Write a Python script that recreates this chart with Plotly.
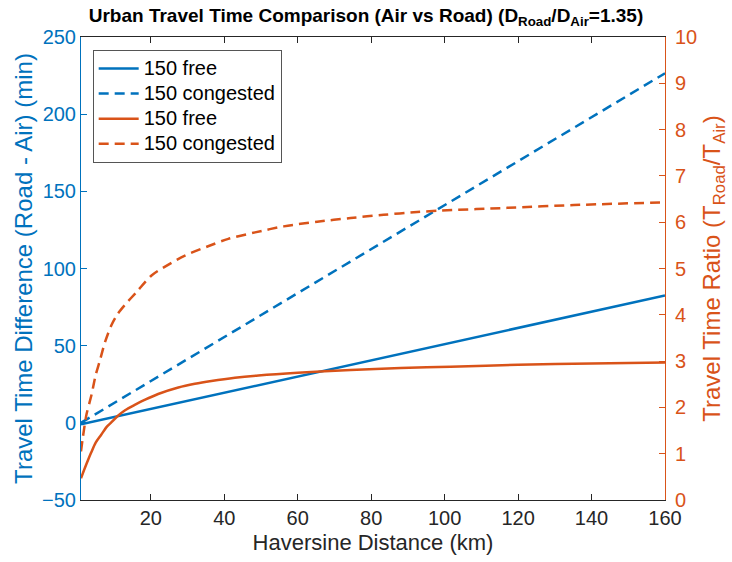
import plotly.graph_objects as go

# Data
dist_lin = [1, 20, 40, 60, 80, 100, 120, 140, 160]
diff_free = [-1.0, 9.0, 19.5, 30.0, 40.5, 51.0, 61.5, 72.0, 82.5]
diff_cong = [0.0, 27.0, 55.5, 84.0, 112.5, 141.0, 169.5, 198.0, 226.5]

dist_ratio_free = [1, 2, 3, 3.8, 5, 6.5, 8, 9.3, 10.9, 13, 15.5, 18.3, 22, 27.5, 32,
                   36.5, 42.9, 49.3, 60, 74.4, 88, 101.6, 120, 140, 160]
ratio_free = [0.47, 0.68, 0.88, 1.03, 1.24, 1.41, 1.58, 1.68, 1.81, 1.94, 2.05, 2.16,
              2.29, 2.43, 2.51, 2.57, 2.64, 2.69, 2.75, 2.81, 2.85, 2.88, 2.92, 2.95, 2.97]

dist_ratio_cong = [1, 1.5, 2.5, 3.8, 5, 6.1, 7.5, 9.3, 11, 12.9, 16.1, 20.2, 24.7, 29.3,
                   35.6, 41.1, 48.4, 56.2, 65.3, 74.4, 83.4, 92.5, 98.9, 117, 135.2, 160]
ratio_cong = [1.05, 1.35, 1.85, 2.25, 2.7, 3.0, 3.4, 3.78, 4.02, 4.21, 4.49, 4.85, 5.08,
              5.28, 5.48, 5.64, 5.78, 5.91, 6.01, 6.09, 6.16, 6.22, 6.25, 6.31, 6.37, 6.43]

x_ticks = [20, 40, 60, 80, 100, 120, 140, 160]
left_ticks = [-50, 0, 50, 100, 150, 200, 250]
right_ticks = list(range(0, 11))

BLUE = "#0072BD"
ORANGE = "#D95319"
GRAY = "#262626"
FONT = "Liberation Sans, Arial, sans-serif"
DASH = "10px,6px"


def big(name):
    return "<span style='font-size:20px'>" + name + "</span>"


fig = go.Figure()
fig.add_trace(go.Scatter(x=dist_lin, y=diff_free, mode="lines", name=big("150 free"),
                         line=dict(color=BLUE, width=2.5)))
fig.add_trace(go.Scatter(x=dist_lin, y=diff_cong, mode="lines", name=big("150 congested"),
                         line=dict(color=BLUE, width=2.5, dash=DASH)))
fig.add_trace(go.Scatter(x=dist_ratio_free, y=ratio_free, mode="lines", name=big("150 free"),
                         yaxis="y2", line=dict(color=ORANGE, width=2.5, shape="spline", smoothing=0.8)))
fig.add_trace(go.Scatter(x=dist_ratio_cong, y=ratio_cong, mode="lines", name=big("150 congested"),
                         yaxis="y2", line=dict(color=ORANGE, width=2.5, dash=DASH, shape="spline", smoothing=0.8)))

fig.update_layout(
    width=732, height=562,
    margin=dict(l=81, r=65, t=37, b=60),
    paper_bgcolor="white", plot_bgcolor="white",
    font=dict(family=FONT, size=20, color=GRAY),
    title=dict(text="<b>Urban Travel Time Comparison (Air vs Road) (D<sub>Road</sub>/D<sub>Air</sub>=1.35)</b>",
               x=0.5, xanchor="center", y=0.972, yanchor="middle", yref="container",
               font=dict(family=FONT, size=19, color="black")),
    showlegend=True,
    legend=dict(x=0.02, y=0.972, xanchor="left", yanchor="top",
                bgcolor="white", bordercolor="#555555", borderwidth=1,
                font=dict(family=FONT, size=17, color="black"),
                itemwidth=40, tracegroupgap=0),
    xaxis=dict(range=[1, 160], tickvals=x_ticks, ticks="inside", ticklen=6,
               tickcolor=GRAY, showline=True, linecolor=GRAY, linewidth=1,
               mirror="ticks", showgrid=False, zeroline=False,
               tickfont=dict(size=20, color=GRAY),
               title=dict(text="Haversine Distance (km)", font=dict(size=22, color=GRAY), standoff=6)),
    yaxis=dict(range=[-50, 250], tickvals=left_ticks, ticks="inside", ticklen=6,
               tickcolor=BLUE, showline=True, linecolor=BLUE, linewidth=1,
               showgrid=False, zeroline=False,
               tickfont=dict(size=20, color=BLUE),
               title=dict(text="Travel Time Difference (Road - Air) (min)",
                          font=dict(size=24, color=BLUE), standoff=2)),
    yaxis2=dict(range=[0, 10], tickvals=right_ticks, ticks="inside", ticklen=6,
                tickcolor=ORANGE, showline=True, linecolor=ORANGE, linewidth=1,
                overlaying="y", side="right", showgrid=False, zeroline=False,
                ticklabelstandoff=5,
                tickfont=dict(size=20, color=ORANGE),
                title=dict(text="Travel Time Ratio (T<sub>Road</sub>/T<sub>Air</sub>)",
                           font=dict(size=24, color=ORANGE), standoff=6)),
)

fig.write_html("out.html")
